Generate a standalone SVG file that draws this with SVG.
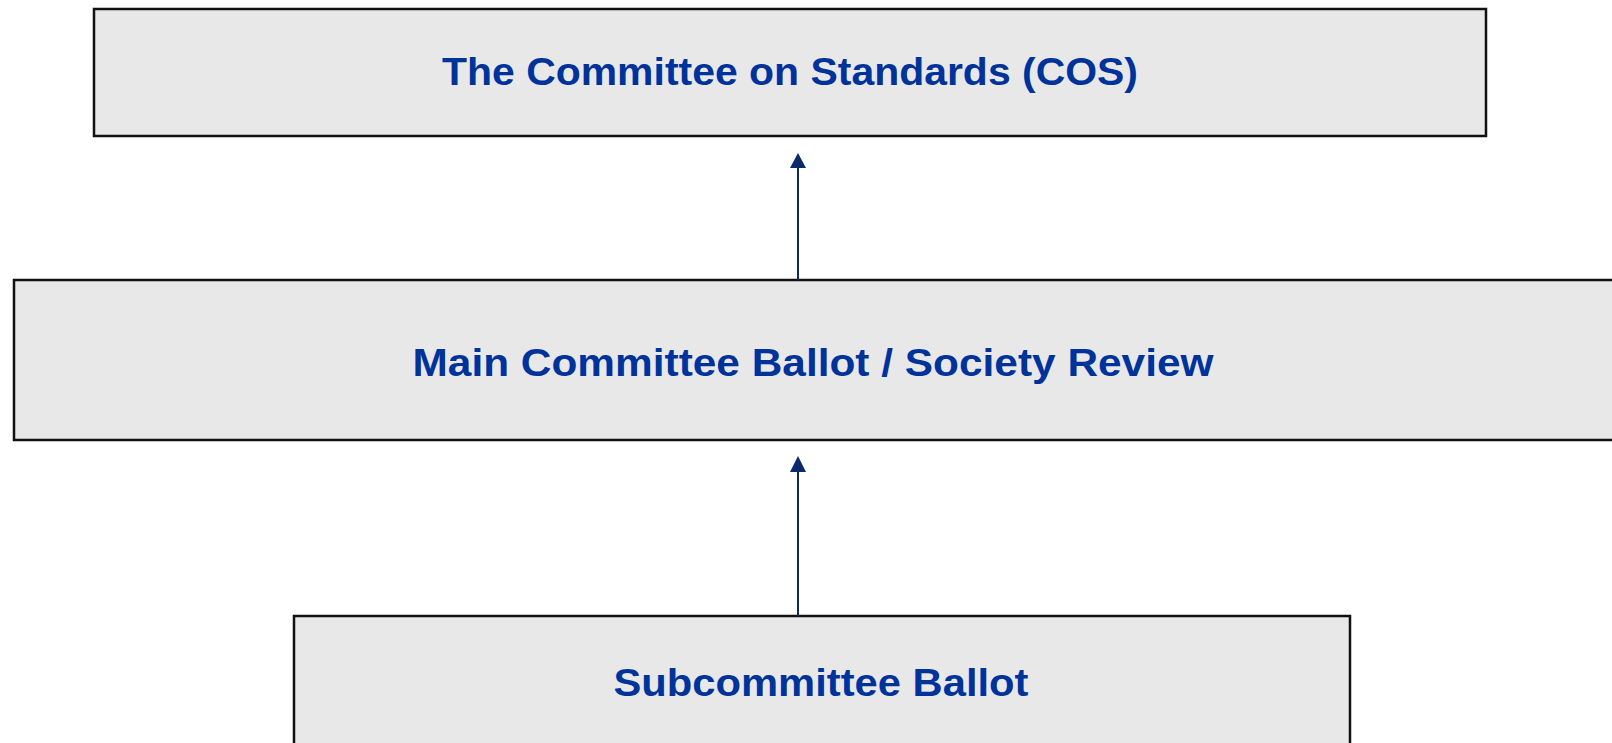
<svg xmlns="http://www.w3.org/2000/svg" width="1612" height="743" viewBox="0 0 1612 743">
<style>
.box{fill:#e8e8e8;stroke:#111;stroke-width:2.5}
.lbl{font-family:"Liberation Sans",Arial,sans-serif;font-weight:bold;font-size:38px;fill:#003399;text-anchor:middle}
.conn{stroke:#0c2a6b;stroke-width:2;fill:none}
</style>
<defs>
<marker id="ah" markerUnits="userSpaceOnUse" markerWidth="16" markerHeight="16" refX="8" refY="0" viewBox="0 0 16 16" orient="auto" overflow="visible">
<path d="M0,15 L8,0 L16,15 Z" fill="#0c2a6b"/>
</marker>
</defs>
<rect width="1612" height="743" fill="#ffffff"/>
<g id="cos">
<rect class="box" x="94" y="9" width="1392" height="127"/>
<text class="lbl" x="790" y="85" textLength="696" lengthAdjust="spacingAndGlyphs">The Committee on Standards (COS)</text>
</g>
<g id="main">
<rect class="box" x="14" y="280" width="1620" height="160"/>
<text class="lbl" x="813" y="376" textLength="801" lengthAdjust="spacingAndGlyphs">Main Committee Ballot / Society Review</text>
</g>
<g id="sub">
<rect class="box" x="294" y="616" width="1056" height="150"/>
<text class="lbl" x="821" y="696" textLength="415" lengthAdjust="spacingAndGlyphs">Subcommittee Ballot</text>
</g>
<g id="connectors">
<line class="conn" x1="798" y1="280" x2="798" y2="168"/>
<path d="M790,168 L798,153 L806,168 Z" fill="#0c2a6b"/>
<line class="conn" x1="798" y1="616" x2="798" y2="472"/>
<path d="M790,472 L798,456 L806,472 Z" fill="#0c2a6b"/>
</g>
</svg>
